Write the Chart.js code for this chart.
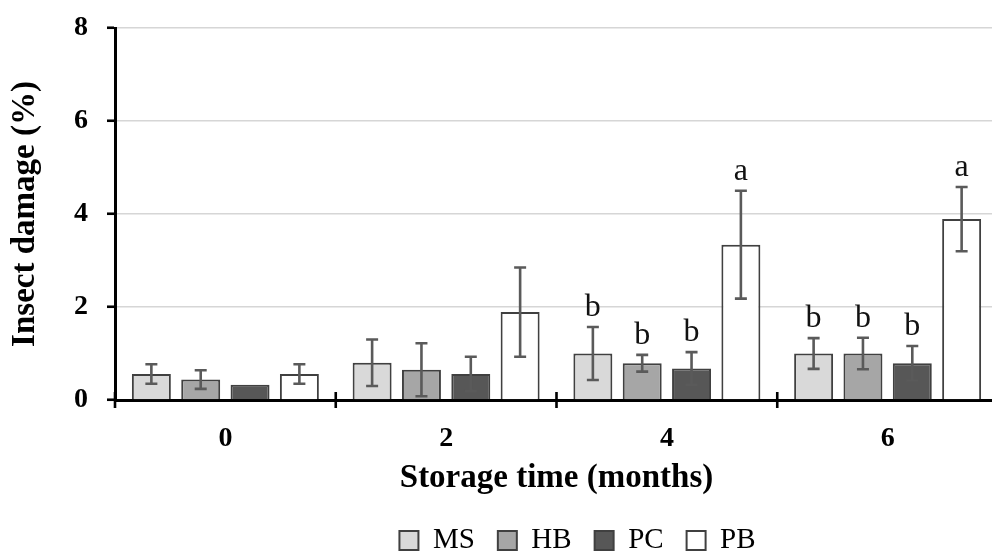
<!DOCTYPE html>
<html><head><meta charset="utf-8">
<script src="https://cdn.jsdelivr.net/npm/chart.js@4"></script>
<style>
html,body{margin:0;padding:0;background:#fff;overflow:hidden;width:992px;height:554px;}
#wrap{width:1000px;height:554px;position:relative;}
</style></head><body>
<div id="wrap"><canvas id="c"></canvas></div>
<script>
const categories = ['0', '2', '4', '6'];
const seriesNames = ['MS', 'HB', 'PC', 'PB'];
const msValues = [0.56, 0.80, 1.00, 1.00];
const msErrors = [0.21, 0.50, 0.57, 0.33];
const hbValues = [0.44, 0.65, 0.79, 1.00];
const hbErrors = [0.20, 0.57, 0.18, 0.34];
const pcValues = [0.33, 0.56, 0.68, 0.79];
const pcErrors = [0.00, 0.37, 0.35, 0.37];
const pbValues = [0.56, 1.89, 3.34, 3.89];
const pbErrors = [0.21, 0.96, 1.16, 0.69];
const msLetters = ['', '', 'b', 'b'];
const hbLetters = ['', '', 'b', 'b'];
const pcLetters = ['', '', 'b', 'b'];
const pbLetters = ['', '', 'a', 'a'];
const yMin = 0, yMax = 8, yStep = 2;
const xTitle = 'Storage time (months)';
const yTitle = 'Insect damage (%)';

const FONT = "'Liberation Serif', 'Times New Roman', serif";
Chart.defaults.font.family = FONT;
Chart.defaults.color = '#000';

const fills = ['#d9d9d9', '#a6a6a6', '#575757', '#ffffff'];
const values = [msValues, hbValues, pcValues, pbValues];
const errors = [msErrors, hbErrors, pcErrors, pbErrors];
const letters = [msLetters, hbLetters, pcLetters, pbLetters];

const datasets = seriesNames.map((n, i) => ({
  label: n,
  data: values[i],
  errors: errors[i],
  letters: letters[i],
  backgroundColor: fills[i],
  borderColor: '#404040',
  borderWidth: 2,
  categoryPercentage: 0.894,
  barPercentage: 0.79
}));

const errorBarPlugin = {
  id: 'errorBars',
  afterDatasetsDraw(chart) {
    const ctx = chart.ctx;
    const ys = chart.scales.y;
    chart.data.datasets.forEach((ds, di) => {
      const meta = chart.getDatasetMeta(di);
      meta.data.forEach((bar, i) => {
        const v = ds.data[i], e = ds.errors[i];
        const top = ys.getPixelForValue(v + e);
        const bot = ys.getPixelForValue(v - e);
        ctx.save();
        if (e > 0) {
          ctx.strokeStyle = '#5a5a5a';
          ctx.lineWidth = 2.6;
          ctx.beginPath();
          ctx.moveTo(bar.x, top); ctx.lineTo(bar.x, bot);
          ctx.moveTo(bar.x - 6, top); ctx.lineTo(bar.x + 6, top);
          ctx.moveTo(bar.x - 6, bot); ctx.lineTo(bar.x + 6, bot);
          ctx.stroke();
        }
        const L = ds.letters[i];
        if (L) {
          ctx.fillStyle = '#111';
          ctx.font = '32px ' + FONT;
          ctx.textAlign = 'center';
          ctx.textBaseline = 'alphabetic';
          ctx.fillText(L, bar.x, top - 11);
        }
        ctx.restore();
      });
    });
  },
  afterDraw(chart) {
    const ctx = chart.ctx;
    const xs = chart.scales.x;
    const n = chart.data.labels.length;
    const w = xs.width / n;
    ctx.save();
    ctx.strokeStyle = '#000';
    ctx.lineWidth = 2.6;
    ctx.beginPath();
    for (let i = 0; i <= n; i++) {
      const px = xs.getPixelForValue(0) - w / 2 + i * w;
      ctx.moveTo(px, xs.top - 8);
      ctx.lineTo(px, xs.top + 8);
    }
    ctx.stroke();
    ctx.restore();
  }
};

const legendShift = {
  id: 'legendShift',
  afterLayout(chart) {
    chart.legend.left += 21;
    chart.legend.right += 21;
  }
};

new Chart(document.getElementById('c'), {
  type: 'bar',
  data: { labels: categories, datasets },
  plugins: [errorBarPlugin, legendShift],
  options: {
    responsive: true,
    maintainAspectRatio: false,
    animation: false,
    layout: { padding: { top: 28, left: 0, right: 2, bottom: 0 } },
    plugins: {
      tooltip: { enabled: false },
      legend: {
        position: 'bottom',
        fullSize: false,
        maxHeight: 51,
        labels: {
          boxWidth: 19,
          boxHeight: 19,
          padding: 23,
          color: '#000',
          font: { size: 29, family: FONT }
        }
      }
    },
    scales: {
      x: {
        afterFit(s) { s.height = 103; },
        grid: { display: false },
        border: { display: true, color: '#000', width: 3 },
        ticks: { padding: 14, color: '#000', font: { size: 28, weight: 'bold', family: FONT } },
        title: { display: true, text: xTitle, color: '#000', padding: { top: 0, bottom: 5 },
                 font: { size: 33, weight: 'bold', family: FONT } }
      },
      y: {
        min: yMin, max: yMax,
        afterFit(s) { s.width = 115; s.paddingTop = 0; s.paddingBottom = 0; },
        grid: {
          color: (c) => (c.tick && c.tick.value === 0) ? 'rgba(0,0,0,0)' : '#d6d6d6',
          lineWidth: 1.5,
          tickColor: '#000',
          tickWidth: 2.6,
          tickLength: 8
        },
        border: { display: true, color: '#000', width: 3 },
        ticks: { stepSize: yStep, padding: 19, color: '#000', font: { size: 28, weight: 'bold', family: FONT } },
        title: { display: true, text: yTitle, color: '#000', padding: { top: 6, bottom: 0 },
                 font: { size: 33, weight: 'bold', family: FONT } }
      }
    }
  }
});
</script>
</body></html>
